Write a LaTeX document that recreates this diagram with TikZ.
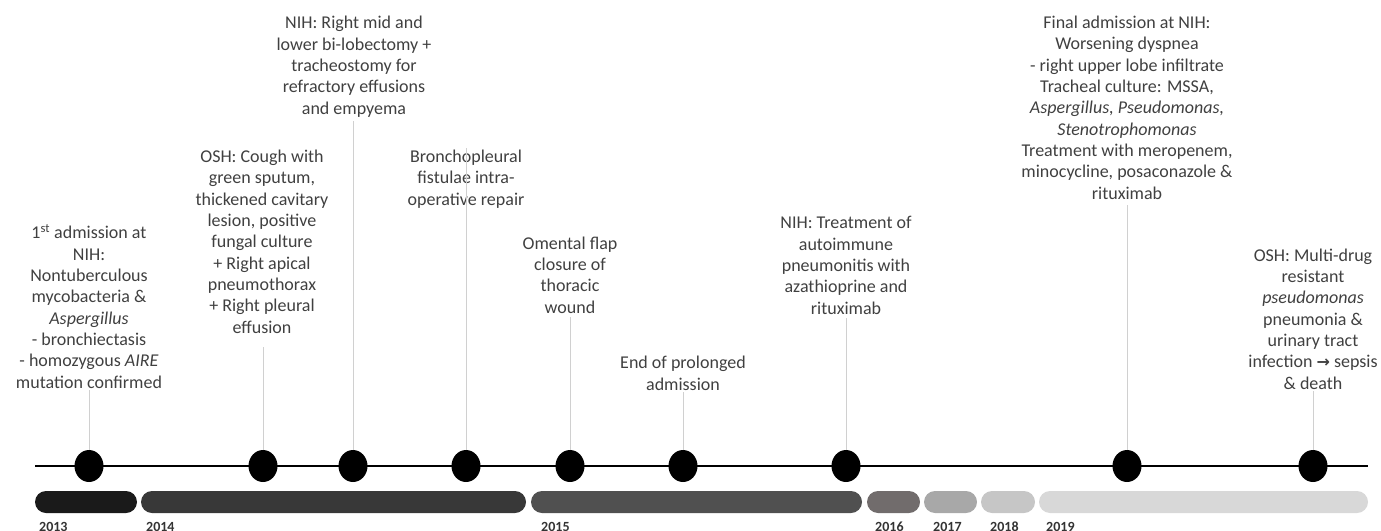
\documentclass[tikz,border=0pt]{standalone}
\usepackage{fontspec}
\setmainfont{Carlito}
\newfontfamily\symfont{DejaVu Sans}
\usetikzlibrary{shapes.geometric}
\definecolor{txt}{HTML}{404040}
\definecolor{conn}{HTML}{D0D0D0}
\definecolor{barA}{HTML}{1A1A1A}
\definecolor{barB}{HTML}{383838}
\definecolor{barC}{HTML}{505050}
\definecolor{barD}{HTML}{716C6C}
\definecolor{barE}{HTML}{A8A8A8}
\definecolor{barF}{HTML}{C6C6C6}
\definecolor{barG}{HTML}{D8D8D8}
\begin{document}
\begin{tikzpicture}[x=1pt,y=-1pt,
  evt/.style={align=center, anchor=base, text=txt, inner sep=2pt,
    font=\fontsize{18}{21.3}\selectfont},
  dot/.style={ellipse, fill=black, minimum width=29pt, minimum height=32pt, inner sep=0pt},
  stem/.style={draw=conn, line width=0.9pt},
  yearlbl/.style={anchor=base west, inner sep=0pt, text=txt!80!black,
    font=\fontsize{14}{14}\selectfont\bfseries},
  bar/.style={rounded corners=11pt}]
\useasboundingbox (0,0) rectangle (1381,530);
% timeline
\coordinate (tl0) at (35,466);
\coordinate (tl1) at (1368,466);
\draw[line width=2.5pt] (tl0) -- (tl1);
% year bars
\fill[barA,bar] (35,491) rectangle (137,513);
\fill[barB,bar] (141,491) rectangle (526,513);
\fill[barC,bar] (531,491) rectangle (862,513);
\fill[barD,bar] (867,491) rectangle (920,513);
\fill[barE,bar] (924,491) rectangle (977,513);
\fill[barF,bar] (981,491) rectangle (1035,513);
\fill[barG,bar] (1039,491) rectangle (1368,513);
% year labels
\node[yearlbl] (y13) at (39,531) {2013};
\node[yearlbl] (y14) at (146,531) {2014};
\node[yearlbl] (y15) at (541,531) {2015};
\node[yearlbl] (y16) at (875,531) {2016};
\node[yearlbl] (y17) at (933,531) {2017};
\node[yearlbl] (y18) at (990,531) {2018};
\node[yearlbl] (y19) at (1046,531) {2019};
% event texts (anchored at the baseline of their last line)
\node[evt] (t1) at (89,388) {1\textsuperscript{st} admission at\\NIH:\\Nontuberculous\\mycobacteria \&\\\textit{Aspergillus}\\- bronchiectasis\\- homozygous \textit{AIRE}\\mutation confirmed};
\node[evt] (t2) at (262,333) {OSH: Cough with\\green sputum,\\thickened cavitary\\lesion, positive\\fungal culture\\+ Right apical\\pneumothorax\\+ Right pleural\\effusion};
\node[evt] (t3) at (354,114) {NIH: Right mid and\\lower bi-lobectomy +\\tracheostomy for\\refractory effusions\\and empyema};
\node[evt] (t4) at (466,205) {Bronchopleural\\fistulae intra-\\operative repair};
\node[evt] (t5) at (570,313) {Omental flap\\closure of\\thoracic\\wound};
\node[evt] (t6) at (683,390) {End of prolonged\\admission};
\node[evt] (t7) at (846,314) {NIH: Treatment of\\autoimmune\\pneumonitis with\\azathioprine and\\rituximab};
\node[evt] (t8) at (1127,199) {Final admission at NIH:\\Worsening dyspnea\\- right upper lobe infiltrate\\Tracheal culture: MSSA,\\\textit{Aspergillus, Pseudomonas,}\\\textit{Stenotrophomonas}\\Treatment with meropenem,\\minocycline, posaconazole \&\\rituximab};
\node[evt] (t9) at (1313,389) {OSH: Multi-drug\\resistant\\\textit{pseudomonas}\\pneumonia \&\\urinary tract\\infection {\symfont\bfseries\fontsize{16}{16}\selectfont →} sepsis\\\& death};
% dots
\node[dot] (d1) at (89,466) {};
\node[dot] (d2) at (263,466) {};
\node[dot] (d3) at (353,466) {};
\node[dot] (d4) at (466,466) {};
\node[dot] (d5) at (570,466) {};
\node[dot] (d6) at (683,466) {};
\node[dot] (d7) at (846,466) {};
\node[dot] (d8) at (1127,466) {};
\node[dot] (d9) at (1313,466) {};
% stems
\draw[stem] (d1.north) -- (d1.north |- t1.south);
\draw[stem] (d2.north) -- ([yshift=-12pt]d2.north |- t2.south);
\draw[stem] (d3.north) -- ([yshift=-2pt]d3.north |- t3.south);
\draw[stem] (d4.north) -- (d4.north |- t4.north);
\draw[stem] (d5.north) -- ([yshift=-2pt]d5.north |- t5.south);
\draw[stem] (d6.north) -- (d6.north |- t6.south);
\draw[stem] (d7.north) -- ([yshift=-2pt]d7.north |- t7.south);
\draw[stem] (d8.north) -- ([yshift=-4pt]d8.north |- t8.south);
\draw[stem] (d9.north) -- (d9.north |- t9.south);
\end{tikzpicture}
\end{document}
